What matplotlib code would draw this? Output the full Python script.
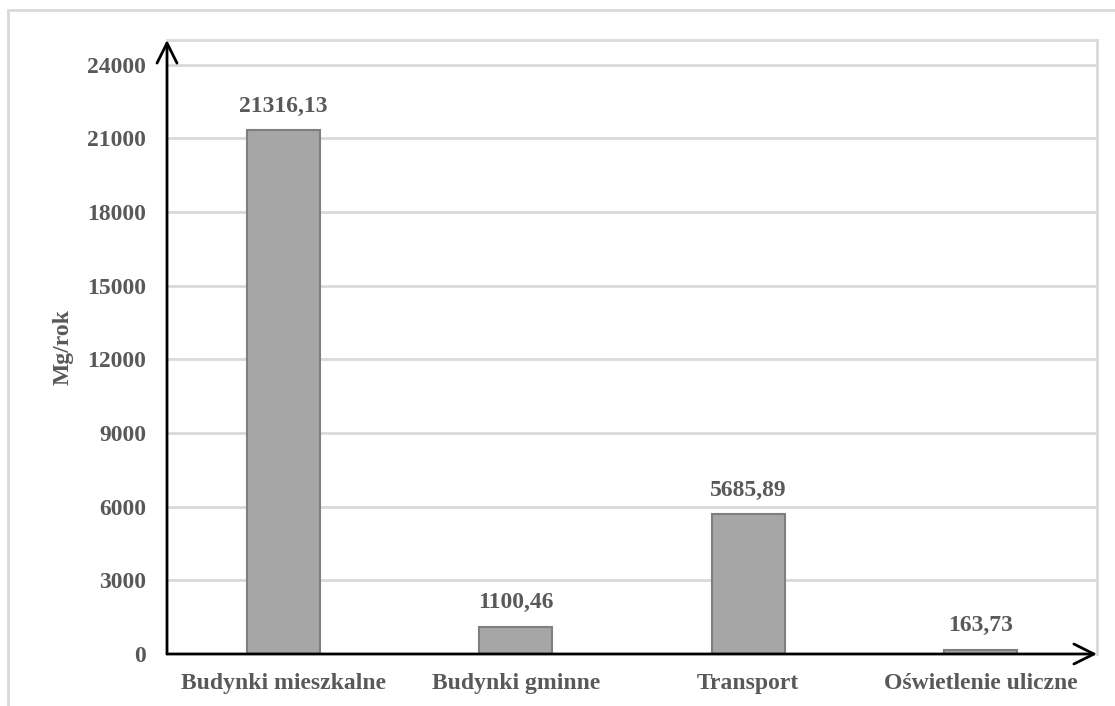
import matplotlib
matplotlib.use("Agg")
import matplotlib.pyplot as plt
from matplotlib.patches import Rectangle

# emisje CO2 w podziale na sektory
sektory = ["Budynki mieszkalne", "Budynki gminne", "Transport", "Oświetlenie uliczne"]
emisja = [21316.13, 1100.46, 5685.89, 163.73]
etykiety = ["21316,13", "1100,46", "5685,89", "163,73"]
yticks = [0, 3000, 6000, 9000, 12000, 15000, 18000, 21000, 24000]

plt.rcParams['font.family'] = ['Liberation Serif', 'DejaVu Serif']
plt.rcParams['font.weight'] = 'bold'
tekst = '#595959'
siatka = '#d9d9d9'
rozmiar = 17

fig = plt.figure(figsize=(11.15, 7.06), dpi=100)
ax = fig.add_axes([167/1115, 1 - 654/706, (1097 - 167)/1115, (654 - 40)/706])

# ramka wokol calego wykresu
fig.patches.append(Rectangle((8/1115, -0.01), 1.0, 1 - 10/706 + 0.01, transform=fig.transFigure,
                             fill=False, edgecolor=siatka, linewidth=2))

x = range(len(sektory))
ax.bar(x, emisja, width=0.315, color='#a6a6a6', edgecolor='#7f7f7f', linewidth=1.5, zorder=3)

for xi, v, txt in zip(x, emisja, etykiety):
    ax.annotate(txt, (xi, v), xytext=(0, 10), textcoords='offset points',
                ha='center', va='bottom', fontsize=rozmiar, fontweight='bold', color=tekst)

ax.set_xlim(-0.5, 3.5)
ax.set_ylim(0, 25000)
ax.set_yticks(yticks)
ax.set_yticklabels([str(t) for t in yticks])
ax.set_xticks(list(x))
ax.set_xticklabels(sektory)
ax.tick_params(axis='both', length=0, labelsize=rozmiar, labelcolor=tekst)
ax.tick_params(axis='y', pad=15)
ax.tick_params(axis='x', pad=14)
for lab in ax.get_xticklabels() + ax.get_yticklabels():
    lab.set_fontweight('bold')

ax.grid(axis='y', color=siatka, linewidth=2, zorder=0)
ax.set_axisbelow(True)

ax.spines['left'].set_visible(False)
ax.spines['bottom'].set_visible(False)
ax.spines['top'].set_color(siatka)
ax.spines['right'].set_color(siatka)
ax.spines['top'].set_linewidth(2)
ax.spines['right'].set_linewidth(2)

# osie ze strzalkami
ax.annotate('', xy=(0, 1.0), xytext=(0, 0), xycoords='axes fraction',
            arrowprops=dict(arrowstyle='->', color='black', lw=2, mutation_scale=36,
                            shrinkA=0, shrinkB=0), zorder=5)
ax.annotate('', xy=(1.0, 0), xytext=(0, 0), xycoords='axes fraction',
            arrowprops=dict(arrowstyle='->', color='black', lw=2, mutation_scale=36,
                            shrinkA=0, shrinkB=0), zorder=5)

ax.set_ylabel('Mg/rok', fontsize=rozmiar, fontweight='bold', color=tekst, labelpad=10)

fig.savefig('out.png', dpi=100)
